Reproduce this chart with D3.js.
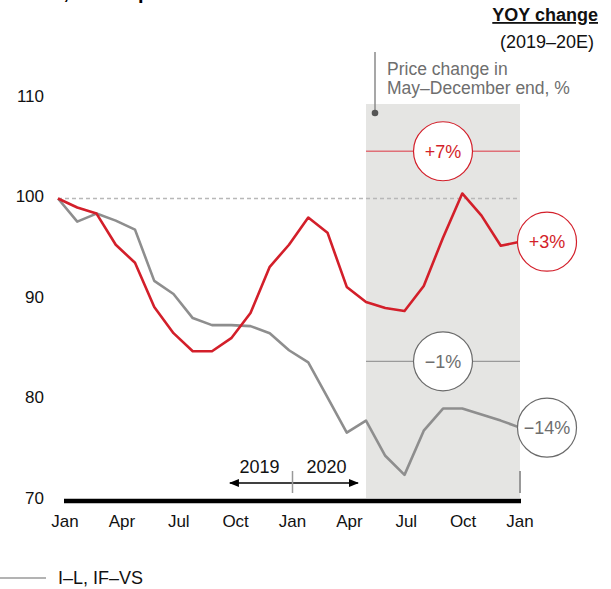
<!DOCTYPE html>
<html>
<head>
<meta charset="utf-8">
<script src="https://cdn.jsdelivr.net/npm/d3@7"></script>
<style>
  body { margin: 0; background: #fff; }
  text { font-family: "Liberation Sans", Arial, sans-serif; }
</style>
</head>
<body>
<script>
// monthly index, Jan 2019 = 100
const monthLabels = ["Jan", "Apr", "Jul", "Oct", "Jan", "Apr", "Jul", "Oct", "Jan"]
const yTicks = [70, 80, 90, 100, 110]
const redValues = [100, 99.1, 98.5, 95.4, 93.6, 89.2, 86.6, 84.8, 84.8, 86.1, 88.6, 93.2, 95.4,
        98.1, 96.6, 91.2, 89.7, 89.1, 88.8, 91.3, 96.1, 100.5, 98.3, 95.3, 95.7]
const greyValues = [100, 97.7, 98.5, 97.8, 96.9, 91.8, 90.5, 88.1, 87.4, 87.4, 87.3, 86.6, 84.9,
        83.7, 80.2, 76.7, 77.9, 74.4, 72.5, 76.9, 79.1, 79.1, 78.5, 77.9, 77.2]
const greyName = "I–L, IF–VS"
// May–Dec average change (index level) and YOY change labels
const refLevels = [104.7, 83.8]
const refLabels = ["+7%", "−1%"]
const yoyLabels = ["+3%", "−14%"]
const shadeStart = 16 // May 2020

const red = "#d31f2a", grey = "#8e8e8e", textGrey = "#6e6e6e"

var width = 611, height = 589
var svg = d3.select("body").append("svg").attr("width", width).attr("height", height)

var x = d3.scaleLinear().domain([0, 24]).range([58, 520])
var xTick = d3.scaleLinear().domain([0, 24]).range([65, 520])
var y = d3.scaleLinear().domain([70, 110]).range([500, 98])

// title (cut at top of frame, as in the source)
svg.append("text").attr("x", 0).attr("y", -1).attr("font-size", 20).attr("font-weight", "bold")
        .text("Values, resale price index")

// shaded period
svg.append("rect").attr("x", x(shadeStart)).attr("y", 104)
        .attr("width", x(24) - x(shadeStart)).attr("height", y(70) - 104 - 2)
        .attr("fill", "#e5e5e3")

// 100 baseline
svg.append("line").attr("x1", x(0)).attr("x2", x(24)).attr("y1", y(100)).attr("y2", y(100))
        .attr("stroke", "#b8b8b8").attr("stroke-width", 1.5).attr("stroke-dasharray", "4,3")

// y labels
svg.selectAll(".ylab").data(yTicks).enter().append("text").attr("class", "ylab")
        .attr("x", 44).attr("y", d => y(d) - 2).attr("dy", "0.35em")
        .attr("text-anchor", "end").attr("font-size", 17).attr("fill", "#111").text(d => d)

// axis bar
svg.append("line").attr("x1", xTick(0) - 1).attr("x2", xTick(24) + 1).attr("y1", 501).attr("y2", 501)
        .attr("stroke", "#000").attr("stroke-width", 4.5)

svg.selectAll(".xlab").data(monthLabels).enter().append("text").attr("class", "xlab")
        .attr("x", (d, i) => xTick(i * 3)).attr("y", 527)
        .attr("text-anchor", "middle").attr("font-size", 17).attr("fill", "#111").text(d => d)

// reference lines in shade + circles
refLevels.forEach((lv, i) => {
        svg.append("line").attr("x1", x(shadeStart)).attr("x2", x(24)).attr("y1", y(lv)).attr("y2", y(lv))
                .attr("stroke", i == 0 ? "#e07078" : "#9a9a9a").attr("stroke-width", 1.3)
        svg.append("circle").attr("cx", x(20)).attr("cy", y(lv)).attr("r", 29.5)
                .attr("fill", "#fff").attr("stroke", i == 0 ? red : "#6a6a6a").attr("stroke-width", 1.2)
        svg.append("text").attr("x", x(20)).attr("y", y(lv)).attr("dy", "0.35em")
                .attr("text-anchor", "middle").attr("font-size", 18)
                .attr("fill", i == 0 ? red : textGrey).text(refLabels[i])
})

// lines
var line = d3.line().x((d, i) => x(i)).y(d => y(d))
svg.append("path").datum(greyValues).attr("d", line).attr("fill", "none")
        .attr("stroke", grey).attr("stroke-width", 2.6).attr("stroke-linejoin", "round")
svg.append("path").datum(redValues).attr("d", line).attr("fill", "none")
        .attr("stroke", red).attr("stroke-width", 2.6).attr("stroke-linejoin", "round")

// end-of-year circles
var ends = [redValues[24], greyValues[24]]
ends.forEach((v, i) => {
        svg.append("circle").attr("cx", x(24) + 27).attr("cy", y(v)).attr("r", 29.5)
                .attr("fill", "#fff").attr("stroke", i == 0 ? red : "#6a6a6a").attr("stroke-width", 1.2)
        svg.append("text").attr("x", x(24) + 27).attr("y", y(v)).attr("dy", "0.35em")
                .attr("text-anchor", "middle").attr("font-size", 18)
                .attr("fill", i == 0 ? red : textGrey).text(yoyLabels[i])
})

// small tick at end of shade
svg.append("line").attr("x1", x(24)).attr("x2", x(24)).attr("y1", 471).attr("y2", 493)
        .attr("stroke", "#999").attr("stroke-width", 2)

// annotation
svg.append("line").attr("x1", 375).attr("x2", 375).attr("y1", 52).attr("y2", 113)
        .attr("stroke", "#8a8a8a").attr("stroke-width", 1.5)
svg.append("circle").attr("cx", 375).attr("cy", 113).attr("r", 3.3).attr("fill", "#555")
svg.append("text").attr("x", 387).attr("y", 75).attr("font-size", 17.5).attr("fill", textGrey)
        .text("Price change in")
svg.append("text").attr("x", 387).attr("y", 94).attr("font-size", 17.5).attr("fill", textGrey)
        .text("May–December end, %")

// YOY header
svg.append("text").attr("x", 598).attr("y", 21).attr("text-anchor", "end").attr("font-size", 18)
        .attr("font-weight", "bold").attr("text-decoration", "underline").attr("fill", "#111")
        .text("YOY change")
svg.append("text").attr("x", 594).attr("y", 48).attr("text-anchor", "end").attr("font-size", 18)
        .attr("fill", "#111").text("(2019–20E)")

// year arrow
var defs = svg.append("defs")
defs.append("marker").attr("id", "ah").attr("viewBox", "0 0 10 10").attr("refX", 9).attr("refY", 5)
        .attr("markerWidth", 10).attr("markerHeight", 10).attr("markerUnits", "userSpaceOnUse")
        .attr("orient", "auto-start-reverse")
        .append("path").attr("d", "M0,1 L10,5 L0,9 Z").attr("fill", "#000")
svg.append("line").attr("x1", xTick(8.7)).attr("x2", xTick(15.45)).attr("y1", 483).attr("y2", 483)
        .attr("stroke", "#000").attr("stroke-width", 1.3)
        .attr("marker-start", "url(#ah)").attr("marker-end", "url(#ah)")
svg.append("line").attr("x1", xTick(12)).attr("x2", xTick(12)).attr("y1", 471).attr("y2", 493)
        .attr("stroke", "#999").attr("stroke-width", 1.5)
svg.append("text").attr("x", xTick(12) - 33).attr("y", 473).attr("text-anchor", "middle")
        .attr("font-size", 18).attr("fill", "#111").text("2019")
svg.append("text").attr("x", xTick(12) + 34).attr("y", 473).attr("text-anchor", "middle")
        .attr("font-size", 18).attr("fill", "#111").text("2020")

// legend
svg.append("line").attr("x1", 0).attr("x2", 46).attr("y1", 578).attr("y2", 578)
        .attr("stroke", "#9a9a9a").attr("stroke-width", 1.5)
svg.append("text").attr("x", 58).attr("y", 584).attr("font-size", 18).attr("fill", "#111").text(greyName)
</script>
</body>
</html>
